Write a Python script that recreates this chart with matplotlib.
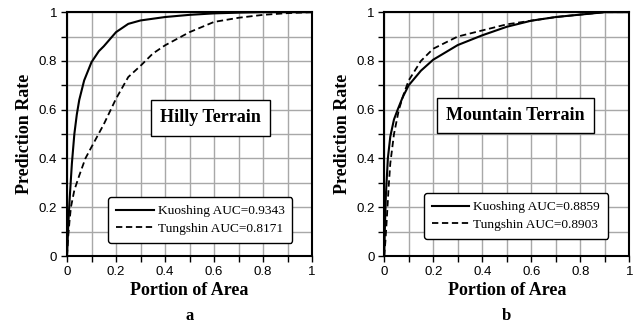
import numpy as np
import matplotlib.pyplot as plt

# Hilly terrain (a)
hilly_kuo_x = [0, 0.005, 0.01, 0.02, 0.03, 0.04, 0.05, 0.07, 0.1, 0.13, 0.15, 0.2, 0.25, 0.3, 0.4, 0.5, 0.6, 0.7, 0.8, 1.0]
hilly_kuo_y = [0, 0.12, 0.22, 0.38, 0.5, 0.58, 0.64, 0.72, 0.795, 0.84, 0.86, 0.918, 0.952, 0.966, 0.98, 0.989, 0.995, 0.998, 1.0, 1.0]
hilly_tun_x = [0, 0.005, 0.01, 0.016, 0.03, 0.05, 0.075, 0.1, 0.15, 0.2, 0.25, 0.3, 0.35, 0.4, 0.5, 0.6, 0.7, 0.8, 0.9, 1.0]
hilly_tun_y = [0, 0.08, 0.14, 0.2, 0.27, 0.33, 0.4, 0.447, 0.54, 0.645, 0.734, 0.78, 0.83, 0.864, 0.918, 0.96, 0.977, 0.989, 0.996, 1.0]

# Mountain terrain (b)
mount_kuo_x = [0, 0.003, 0.007, 0.015, 0.025, 0.04, 0.055, 0.075, 0.1, 0.15, 0.2, 0.3, 0.4, 0.5, 0.6, 0.7, 0.8, 0.9, 1.0]
mount_kuo_y = [0, 0.12, 0.25, 0.4, 0.49, 0.56, 0.6, 0.65, 0.7, 0.76, 0.805, 0.865, 0.905, 0.94, 0.965, 0.98, 0.99, 1.0, 1.0]
mount_tun_x = [0, 0.005, 0.01, 0.018, 0.025, 0.04, 0.06, 0.08, 0.1, 0.15, 0.2, 0.3, 0.4, 0.5, 0.6, 0.7, 0.8, 0.9, 1.0]
mount_tun_y = [0, 0.06, 0.14, 0.28, 0.38, 0.5, 0.6, 0.665, 0.72, 0.8, 0.85, 0.9, 0.925, 0.95, 0.965, 0.98, 0.99, 1.0, 1.0]

major_ticks = [0, 0.2, 0.4, 0.6, 0.8, 1]
minor_ticks = [0.1, 0.3, 0.5, 0.7, 0.9]
tick_labels = ["0", "0.2", "0.4", "0.6", "0.8", "1"]

panels = [
    dict(title="Hilly Terrain", letter="a",
         kuo=(hilly_kuo_x, hilly_kuo_y), tun=(hilly_tun_x, hilly_tun_y),
         kuo_lbl="Kuoshing AUC=0.9343", tun_lbl="Tungshin AUC=0.8171",
         tpos=(0.584, 0.566), lpos=(0.92, 0.053)),
    dict(title="Mountain Terrain", letter="b",
         kuo=(mount_kuo_x, mount_kuo_y), tun=(mount_tun_x, mount_tun_y),
         kuo_lbl="Kuoshing AUC=0.8859", tun_lbl="Tungshin AUC=0.8903",
         tpos=(0.537, 0.576), lpos=(0.914, 0.07)),
]

serif = "Liberation Serif"
sans = "Liberation Sans"

fig = plt.figure(figsize=(6.35, 3.26), dpi=100)
lefts = [0.1055, 0.605]

for left, p in zip(lefts, panels):
    ax = fig.add_axes([left, 0.2147, 0.386, 0.748])
    ax.plot(*p["kuo"], color="black", lw=1.5, label=p["kuo_lbl"], zorder=3)
    ax.plot(*p["tun"], color="black", lw=1.3, ls=(0, (3.5, 2)), label=p["tun_lbl"], zorder=3)
    ax.set_xlim(0, 1)
    ax.set_ylim(0, 1)
    ax.set_xticks(major_ticks)
    ax.set_yticks(major_ticks)
    ax.set_xticks(minor_ticks, minor=True)
    ax.set_yticks(minor_ticks, minor=True)
    ax.set_xticklabels(tick_labels, fontfamily=sans, fontsize=9.5)
    ax.set_yticklabels(tick_labels, fontfamily=sans, fontsize=9.5)
    ax.grid(which="both", color="#a8a8a8", lw=1.0, zorder=0)
    ax.set_axisbelow(True)
    ax.tick_params(which="both", direction="out", length=4, width=1, colors="black", pad=3)
    for s in ax.spines.values():
        s.set_linewidth(1.5)
    ax.set_xlabel("Portion of Area", fontfamily=serif, fontweight="bold", fontsize=13, labelpad=3)
    ax.set_ylabel("Prediction Rate", fontfamily=serif, fontweight="bold", fontsize=13, labelpad=4)
    ax.text(0.5, -0.215, p["letter"], transform=ax.transAxes, ha="center", va="top",
            fontfamily=serif, fontweight="bold", fontsize=12)
    ax.text(*p["tpos"], p["title"], ha="center", va="center", fontfamily=serif,
            fontweight="bold", fontsize=13, zorder=4,
            bbox=dict(boxstyle="square,pad=0.5", fc="white", ec="black", lw=1))
    leg = ax.legend(loc="lower right", bbox_to_anchor=p["lpos"], borderaxespad=0,
                    frameon=True, fancybox=True, framealpha=1, edgecolor="black",
                    prop=dict(family=serif, size=9.6), handlelength=2.8,
                    handletextpad=0.3, borderpad=0.6, labelspacing=0.4)
    leg.get_frame().set_linewidth(1)
    leg.set_zorder(5)

fig.savefig("out.png", dpi=100)
